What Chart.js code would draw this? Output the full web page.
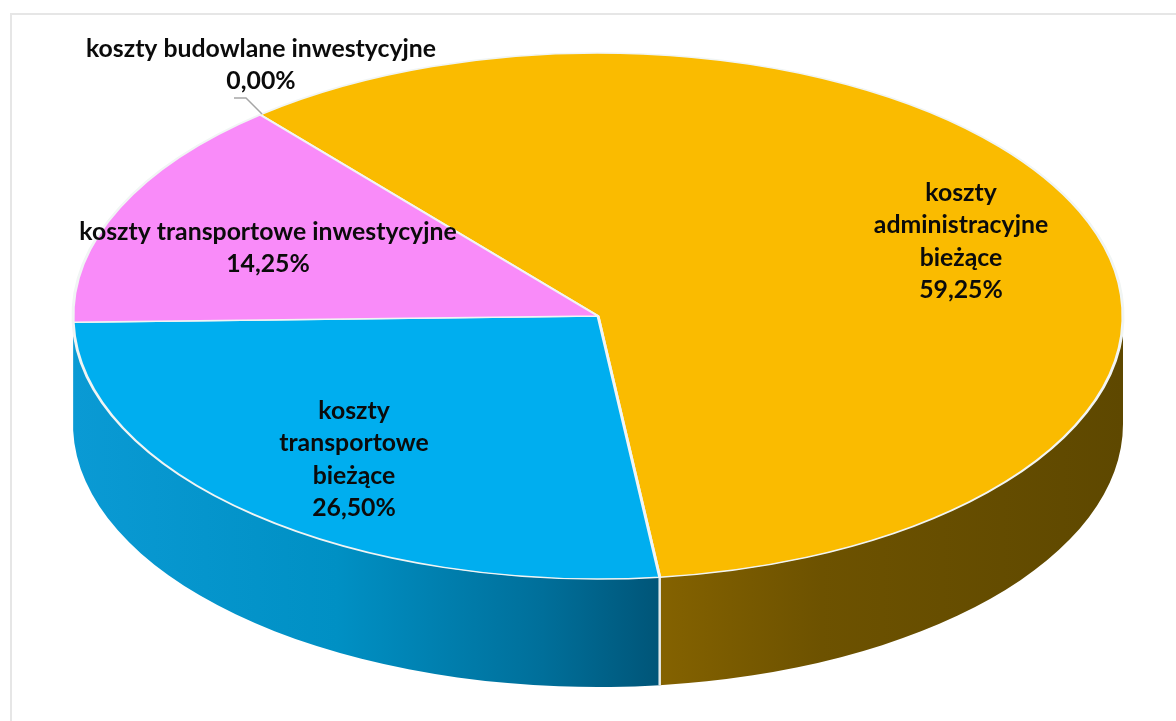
<!DOCTYPE html>
<html lang="pl">
<head>
<meta charset="utf-8">
<title>Struktura kosztów</title>
<style>
  html, body { margin: 0; padding: 0; background: #fff; }
  #wrap { position: relative; width: 1176px; height: 721px; overflow: hidden; }
  #frame { position: absolute; left: 10px; top: 13px; width: 1176px; height: 721px; border: 2px solid #e6e6e6; box-sizing: border-box; }
  #chart { position: absolute; left: 0; top: 0; }
</style>
<script src="https://cdn.jsdelivr.net/npm/chart.js@4/dist/chart.umd.min.js"></script>
</head>
<body>
<div id="wrap">
  <div id="frame"></div>
  <canvas id="chart" width="1176" height="721"></canvas>
</div>
<script>
// ── Dane ──
const categories = ['koszty administracyjne bieżące', 'koszty transportowe bieżące', 'koszty transportowe inwestycyjne', 'koszty budowlane inwestycyjne'];
const shares = [59.25, 26.5, 14.25, 0];
const percentLabels = ['59,25%', '26,50%', '14,25%', '0,00%'];
const labelLines = [
  ['koszty', 'administracyjne', 'bieżące'],
  ['koszty', 'transportowe', 'bieżące'],
  ['koszty transportowe inwestycyjne'],
  ['koszty budowlane inwestycyjne']
];

// ── Wygląd ──
const topColors = ['#fabb00', '#00aeef', '#f98bf9', '#a5a5a5'];
const wallStops = [
  [[0, '#846200'], [0.35, '#6d5200'], [1, '#5e4800']],
  [[0, '#0a9ad4'], [0.45, '#0090c4'], [0.8, '#006f9a'], [1, '#005578']]
];
const RX = 525, RY = 263, DEPTH = 108;
// środek etykiety i wysokość pierwszego wiersza
const labelAnchors = [[961, 193], [354, 411], [268, 232], [261, 49]];
const LINE_H = 32.5;

const piePlugin = {
  id: 'pie3d',
  beforeDatasetsDraw(chart) {
    const ctx = chart.ctx;
    const arcs = chart.getDatasetMeta(0).data;
    arcs.forEach((arc, i) => {
      const stops = wallStops[i];
      if (!stops) return;
      // tylko dolna połowa elipsy ma widoczną ścianę
      let a0 = arc.startAngle, a1 = arc.endAngle;
      while (a1 > 2 * Math.PI) { a0 -= 2 * Math.PI; a1 -= 2 * Math.PI; }
      a0 = Math.max(a0, 0);
      a1 = Math.min(a1, Math.PI);
      if (a1 <= a0) return;
      const xa = arc.x + RX * Math.cos(a1), xb = arc.x + RX * Math.cos(a0);
      const g = ctx.createLinearGradient(xa, 0, xb, 0);
      stops.forEach(s => g.addColorStop(s[0], s[1]));
      ctx.save();
      ctx.beginPath();
      ctx.ellipse(arc.x, arc.y, RX, RY, 0, a0, a1);
      ctx.ellipse(arc.x, arc.y + DEPTH, RX, RY, 0, a1, a0, true);
      ctx.closePath();
      ctx.fillStyle = g;
      ctx.fill();
      ctx.restore();
    });
    // szew pomiędzy ścianami
    const seam = arcs[0].endAngle;
    const sx = arcs[0].x + RX * Math.cos(seam), sy = arcs[0].y + RY * Math.sin(seam);
    ctx.save();
    ctx.strokeStyle = '#e4eaea';
    ctx.lineWidth = 2.5;
    ctx.beginPath();
    ctx.moveTo(sx, sy);
    ctx.lineTo(sx, sy + DEPTH);
    ctx.stroke();
    ctx.restore();
  },
  beforeDatasetDraw(chart) {
    const arc = chart.getDatasetMeta(0).data[0];
    const ctx = chart.ctx;
    ctx.save();
    ctx.translate(arc.x, arc.y);
    ctx.scale(1, RY / RX);
    ctx.translate(-arc.x, -arc.y);
  },
  afterDatasetDraw(chart) {
    chart.ctx.restore();
  },
  afterDatasetsDraw(chart) {
    const ctx = chart.ctx;
    // linia odniesienia dla 0,00%
    ctx.save();
    ctx.strokeStyle = '#a6a6a6';
    ctx.lineWidth = 1.5;
    ctx.beginPath();
    ctx.moveTo(262, 114);
    ctx.lineTo(246, 98);
    ctx.lineTo(234, 98);
    ctx.stroke();
    // etykiety
    ctx.fillStyle = '#0b0b0b';
    ctx.font = 'bold 24.8px Lato, sans-serif';
    ctx.textAlign = 'center';
    ctx.textBaseline = 'middle';
    labelLines.forEach((lines, i) => {
      const [x, y] = labelAnchors[i];
      [...lines, percentLabels[i]].forEach((t, k) => ctx.fillText(t, x, y + k * LINE_H));
    });
    ctx.restore();
  }
};

new Chart(document.getElementById('chart'), {
  type: 'pie',
  data: {
    labels: categories,
    datasets: [{
      data: shares,
      backgroundColor: topColors,
      borderColor: '#f1f5f4',
      borderWidth: 3,
      clip: false
    }]
  },
  options: {
    responsive: false,
    animation: false,
    radius: RX,
    rotation: -40.05,
    layout: { padding: { left: 20, right: 0, top: 0, bottom: 89 } },
    plugins: { legend: { display: false }, tooltip: { enabled: false } }
  },
  plugins: [piePlugin]
});
</script>
</body>
</html>
